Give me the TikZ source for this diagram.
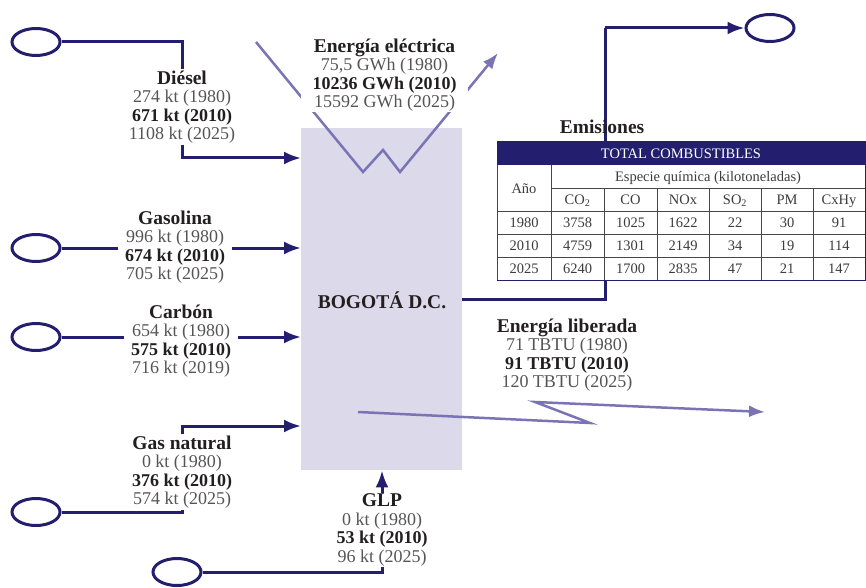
\documentclass[tikz,border=0pt]{standalone}
\usepackage{fontspec}
\setmainfont{Liberation Serif}
\usetikzlibrary{shapes.geometric,arrows.meta}
\definecolor{navy}{RGB}{35,31,110}
\definecolor{lila}{RGB}{122,116,180}
\definecolor{boxfill}{RGB}{219,217,234}
\definecolor{valgray}{RGB}{85,85,85}
\definecolor{darktext}{RGB}{35,31,32}
\definecolor{tabrule}{RGB}{70,70,70}
\definecolor{tabtext}{RGB}{60,60,60}
\newcommand{\mytitle}[1]{{\fontsize{19.5}{18.5}\selectfont\bfseries\color{darktext}#1}}
\newcommand{\mybold}[1]{{\bfseries\color{darktext}#1}}
\begin{document}
\begin{tikzpicture}[x=1pt,y=-1pt,
  navyline/.style={draw=navy, line width=3pt},
  navyarrow/.style={navyline, -{Latex[length=17pt,width=13pt]}},
  lilaline/.style={draw=lila, line width=2.5pt},
  lilaarrow/.style={lilaline, -{Latex[length=16pt,width=12pt]}},
  oval/.style={ellipse, draw=navy, line width=3pt, minimum width=48pt, minimum height=27pt, inner sep=0pt},
  lab/.style={align=center, text=valgray, font=\fontsize{18}{18.5}\selectfont, inner xsep=7pt, inner ysep=1pt},
  cell/.style={anchor=base, text=tabtext, font=\fontsize{14.5}{16}\selectfont, inner sep=0pt}
]
\useasboundingbox (0,0) rectangle (866,588);

% central box
\node[fill=boxfill, minimum width=161pt, minimum height=342pt, inner sep=0pt, anchor=north west] (box) at (301,128) {};
\node[font=\fontsize{19.5}{20}\selectfont\bfseries, text=darktext] (bog) at (382,300) {BOGOTÁ D.C.};

% ovals
\node[oval] (o1) at (36,42) {};
\node[oval] (o2) at (36,248) {};
\node[oval] (o3) at (36,337) {};
\node[oval] (o4) at (36,512) {};
\node[oval] (o5) at (177,572) {};
\node[oval] (o6) at (770,28) {};

% purple lines (energy)
\coordinate (e1) at (256,42);
\coordinate (e2) at (363,172);
\coordinate (e3) at (383,150);
\coordinate (e4) at (400,172);
\coordinate (e5) at (498,53);
\draw[lilaarrow] (e1) -- (e2) -- (e3) -- (e4) -- (e5);
\coordinate (l1) at (358,412);
\coordinate (l2) at (590,423);
\coordinate (l3) at (535,402);
\coordinate (l4) at (765,412);
\draw[lilaarrow] (l1) -- (l2) -- (l3) -- (l4);

% labels
\node[lab] (dies) at (182,107) {\mytitle{Diésel}\\274 kt (1980)\\\mybold{671 kt (2010)}\\1108 kt (2025)};
\node[lab] (gas) at (175,247) {\mytitle{Gasolina}\\996 kt (1980)\\\mybold{674 kt (2010)}\\705 kt (2025)};
\node[lab] (carb) at (181,341) {\mytitle{Carbón}\\654 kt (1980)\\\mybold{575 kt (2010)}\\716 kt (2019)};
\node[lab] (gn) at (182,472) {\mytitle{Gas natural}\\0 kt (1980)\\\mybold{376 kt (2010)}\\574 kt (2025)};
\node[lab] (glp) at (382,530) {\mytitle{GLP}\\0 kt (1980)\\\mybold{53 kt (2010)}\\96 kt (2025)};
\node[lab, fill=white, minimum width=167pt, inner xsep=0pt] (elec) at (384.5,75) {\mytitle{Energía eléctrica}\\75,5 GWh (1980)\\\mybold{10236 GWh (2010)}\\15592 GWh (2025)};
\node[lab] (lib) at (567,355) {\mytitle{Energía liberada}\\71 TBTU (1980)\\\mybold{91 TBTU (2010)}\\120 TBTU (2025)};

% input connectors
\coordinate (dieselin) at (301,158);
\draw[navyline] (o1.east) -| (dies.north);
\draw[navyarrow] (dies.south) |- (dieselin);
\draw[navyline] (o2.east) -- (o2.east -| gas.west);
\draw[navyarrow] (o2.east -| gas.east) -- (o2.east -| box.west);
\draw[navyline] (o3.east) -- (o3.east -| carb.west);
\draw[navyarrow] (o3.east -| carb.east) -- (o3.east -| box.west);
\coordinate (gnin) at (301,426);
\draw[navyline] (o4.east) -| (gn.south);
\draw[navyarrow] (gn.north) |- (gnin);
\draw[navyline] (o5.east) -| (glp.south);
\draw[navyarrow] (glp.north) -- (glp.north |- box.south);

% emissions connector
\coordinate (emc) at (605,28);
\draw[navyline] (box.east) -| (emc);
\draw[navyarrow] (emc) -- (o6.west);

% table
\fill[white] (497,142) rectangle (865,280);
\fill[navy] (497,142) rectangle (865,165);
\begin{scope}[draw=tabrule, line width=0.8pt]
\draw (551,188) -- (865,188);
\draw (497,211) -- (865,211);
\draw (497,234) -- (865,234);
\draw (497,257) -- (865,257);
\draw (551,165) -- (551,280);
\foreach \xx in {604,657,709,761,813} \draw (\xx,188) -- (\xx,280);
\end{scope}
\draw[navy, line width=1pt] (497,142) rectangle (865,280);
\draw[tabrule, line width=0.8pt] (497,165) -- (497,280);

\node[cell, text=white] (thead) at (681,158.5) {TOTAL COMBUSTIBLES};
\node[cell] (tano) at (524,193) {Año};
\node[cell] (tesp) at (708,181.5) {Especie química (kilotoneladas)};
\node[cell] (c1) at (577.5,204.5) {CO\textsubscript{2}};
\node[cell] (c2) at (630.5,204.5) {CO};
\node[cell] (c3) at (683,204.5) {NOx};
\node[cell] (c4) at (735,204.5) {SO\textsubscript{2}};
\node[cell] (c5) at (787,204.5) {PM};
\node[cell] (c6) at (839,204.5) {CxHy};
\foreach \yr/\yy/\a/\b/\c/\d/\e/\f [count=\r] in {1980/227.5/3758/1025/1622/22/30/91, 2010/250.5/4759/1301/2149/34/19/114, 2025/273.5/6240/1700/2835/47/21/147}{
  \node[cell] (r\r-0) at (524,\yy) {\yr};
  \node[cell] (r\r-1) at (577.5,\yy) {\a};
  \node[cell] (r\r-2) at (630.5,\yy) {\b};
  \node[cell] (r\r-3) at (683,\yy) {\c};
  \node[cell] (r\r-4) at (735,\yy) {\d};
  \node[cell] (r\r-5) at (787,\yy) {\e};
  \node[cell] (r\r-6) at (839,\yy) {\f};
}
\node[font=\fontsize{19.5}{20}\selectfont\bfseries, text=darktext] (emi) at (602,127) {Emisiones};
\end{tikzpicture}
\end{document}
